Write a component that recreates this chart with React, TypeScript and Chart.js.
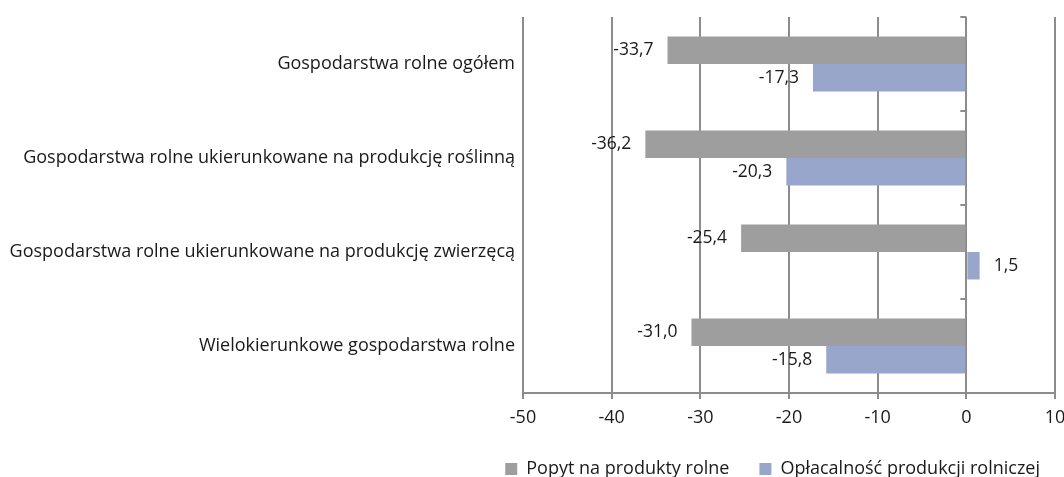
import React, { useEffect, useRef } from "react";
import { Chart, registerables } from "chart.js";

Chart.register(...registerables);

const categories = [
  "Gospodarstwa rolne ogółem",
  "Gospodarstwa rolne ukierunkowane na produkcję roślinną",
  "Gospodarstwa rolne ukierunkowane na produkcję zwierzęcą",
  "Wielokierunkowe gospodarstwa rolne",
];
const seriesNames = ["Popyt na produkty rolne", "Opłacalność produkcji rolniczej"];
const popyt = [-33.7, -36.2, -25.4, -31.0];
const oplacalnosc = [-17.3, -20.3, 1.5, -15.8];
const xTicks = [-50, -40, -30, -20, -10, 0, 10];

const FONT = "'Open Sans', 'Noto Sans', sans-serif";
const GRID = "#8c8c8c";
const TEXT = "#1a1a1a";

const CANVAS_W = 1070;
const PLOT_RIGHT = 1055;

const fmt = (v: number) => v.toFixed(1).replace(".", ",");

const labelPlugin = {
  id: "barLabels",
  afterDatasetsDraw(chart: any) {
    const ctx = chart.ctx;
    ctx.save();
    ctx.font = `17.5px ${FONT}`;
    ctx.fillStyle = TEXT;
    ctx.textBaseline = "middle";
    chart.data.datasets.forEach((ds: any, di: number) => {
      const meta = chart.getDatasetMeta(di);
      meta.data.forEach((el: any, i: number) => {
        const v = ds.data[i] as number;
        const gap = 14;
        if (v < 0) {
          ctx.textAlign = "right";
          ctx.fillText(fmt(v), el.x - gap, el.y);
        } else {
          ctx.textAlign = "left";
          ctx.fillText(fmt(v), el.x + gap, el.y);
        }
      });
    });
    ctx.restore();
  },
};

const zeroTicksPlugin = {
  id: "zeroTicks",
  afterDraw(chart: any) {
    const x = chart.scales.x;
    const y = chart.scales.y;
    const ctx = chart.ctx;
    const x0 = x.getPixelForValue(0);
    ctx.save();
    ctx.strokeStyle = GRID;
    ctx.lineWidth = 2;
    ctx.beginPath();
    for (let i = 0; i <= categories.length; i++) {
      const py = Math.round(y.getPixelForValue(i - 0.5));
      ctx.moveTo(x0 - 6, py);
      ctx.lineTo(x0, py);
    }
    ctx.stroke();
    ctx.restore();
  },
};

export default function App() {
  const ref = useRef<HTMLCanvasElement | null>(null);
  useEffect(() => {
    if (!ref.current) return;
    const chart = new Chart(ref.current, {
      type: "bar",
      data: {
        labels: categories,
        datasets: [
          {
            label: seriesNames[0],
            data: popyt,
            backgroundColor: "#9d9e9d",
            categoryPercentage: 0.585,
            barPercentage: 1,
          },
          {
            label: seriesNames[1],
            data: oplacalnosc,
            backgroundColor: "#98a6cb",
            categoryPercentage: 0.585,
            barPercentage: 1,
          },
        ],
      },
      options: {
        indexAxis: "y",
        animation: false,
        responsive: true,
        maintainAspectRatio: false,
        layout: { padding: { top: 17, right: 0, left: 0, bottom: 0 } },
        scales: {
          x: {
            min: -50,
            max: 10,
            afterBuildTicks: (s: any) => {
              s.ticks = xTicks.map((v) => ({ value: v }));
            },
            afterFit: (s: any) => {
              s.height = 37;
              s.paddingRight = CANVAS_W - PLOT_RIGHT;
              s.paddingLeft = 0;
            },
            ticks: {
              font: { family: FONT, size: 18 },
              color: TEXT,
              padding: 8,
              maxRotation: 0,
              callback: (v: any) => String(v),
            },
            grid: { color: GRID, lineWidth: 2, tickLength: 6 },
            border: { color: GRID, width: 2 },
          },
          y: {
            afterFit: (s: any) => {
              s.width = 523;
            },
            ticks: {
              font: { family: FONT, size: 18 },
              color: TEXT,
              padding: 0,
            },
            grid: { display: false },
            border: { display: false },
          },
        },
        plugins: {
          legend: {
            position: "bottom",
            align: "end",
            labels: {
              font: { family: FONT, size: 18 },
              color: TEXT,
              boxWidth: 12,
              boxHeight: 12,
              padding: 30,
            },
          },
          tooltip: { enabled: false },
        },
      },
      plugins: [labelPlugin, zeroTicksPlugin],
    });
    return () => chart.destroy();
  }, []);
  return (
    <div style={{ position: "fixed", left: 0, top: 0, width: CANVAS_W, height: 488, background: "#fff" }}>
      <canvas ref={ref} />
    </div>
  );
}
